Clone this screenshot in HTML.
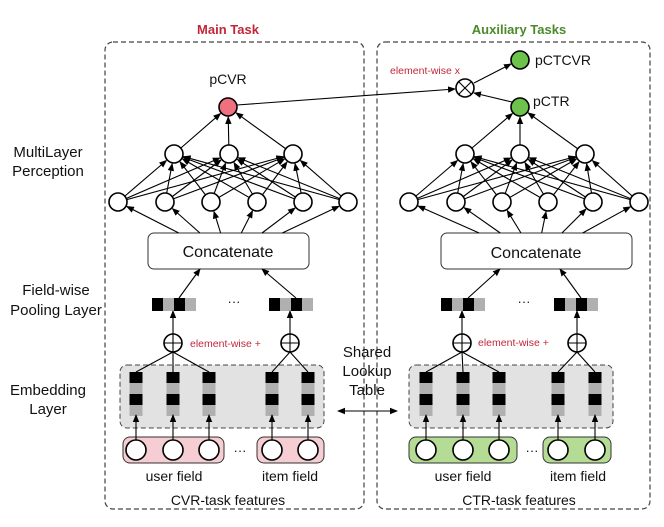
<!DOCTYPE html>
<html><head><meta charset="utf-8">
<style>
html,body{margin:0;padding:0;background:#fff;}
svg{display:block;font-family:"Liberation Sans",Arial,sans-serif;}
</style></head>
<body>
<svg id="s" width="664" height="527" viewBox="0 0 664 527" xmlns="http://www.w3.org/2000/svg">
<defs>
<marker id="ah" markerWidth="8" markerHeight="8" refX="7" refY="4" orient="auto" markerUnits="userSpaceOnUse">
<path d="M0,0.8 L8,4 L0,7.2 Z" fill="#000"/>
</marker>
</defs>
<rect x="105" y="42" width="259" height="467" rx="8" fill="none" stroke="#444" stroke-width="1.2" stroke-dasharray="5,3"/>
<rect x="377" y="42" width="273" height="467" rx="8" fill="none" stroke="#444" stroke-width="1.2" stroke-dasharray="5,3"/>
<rect x="120" y="365" width="204" height="63" rx="7" fill="#e2e2e2" stroke="#444" stroke-dasharray="5,3"/>
<rect x="409" y="365" width="204" height="63" rx="7" fill="#e2e2e2" stroke="#444" stroke-dasharray="5,3"/>
<rect x="123" y="437" width="101" height="26" rx="7" fill="#f6cdd3" stroke="#333"/>
<rect x="257" y="437" width="67" height="26" rx="7" fill="#f6cdd3" stroke="#333"/>
<rect x="409" y="437" width="108" height="26" rx="7" fill="#b4dc94" stroke="#333"/>
<rect x="543" y="437" width="68" height="26" rx="7" fill="#b4dc94" stroke="#333"/>
<rect x="148" y="233" width="161" height="36" rx="6" fill="#fff" stroke="#333"/>
<rect x="441" y="233" width="191" height="36" rx="6" fill="#fff" stroke="#333"/>
<g id="g"></g>
<g font-size="13" font-weight="bold" text-anchor="middle">
<text x="228" y="34" fill="#c0283a">Main Task</text>
<text x="519" y="34" fill="#4a8a2a">Auxiliary Tasks</text>
</g>
<g font-size="15" fill="#111">
<text x="228" y="84" text-anchor="middle" font-size="14">pCVR</text>
<text x="535" y="65" font-size="14">pCTCVR</text>
<text x="533" y="106" font-size="14">pCTR</text>
<text x="228" y="257" text-anchor="middle" font-size="16">Concatenate</text>
<text x="536" y="258" text-anchor="middle" font-size="16">Concatenate</text>
<text x="48" y="157" text-anchor="middle">MultiLayer</text>
<text x="48" y="176" text-anchor="middle">Perception</text>
<text x="56" y="295" text-anchor="middle">Field-wise</text>
<text x="56" y="315" text-anchor="middle">Pooling Layer</text>
<text x="48" y="395" text-anchor="middle">Embedding</text>
<text x="48" y="414" text-anchor="middle">Layer</text>
<text x="367" y="357" text-anchor="middle">Shared</text>
<text x="367" y="376" text-anchor="middle">Lookup</text>
<text x="367" y="395" text-anchor="middle">Table</text>
<text x="174" y="481" text-anchor="middle" font-size="14">user field</text>
<text x="290" y="481" text-anchor="middle" font-size="14">item field</text>
<text x="463" y="481" text-anchor="middle" font-size="14">user field</text>
<text x="578" y="481" text-anchor="middle" font-size="14">item field</text>
<text x="228" y="505" text-anchor="middle" font-size="14">CVR-task features</text>
<text x="519" y="505" text-anchor="middle" font-size="14">CTR-task features</text>
<text x="234" y="306" text-anchor="middle" font-size="13">···</text>
<text x="524" y="306" text-anchor="middle" font-size="13">···</text>
<text x="240" y="455" text-anchor="middle" font-size="13">···</text>
<text x="532" y="455" text-anchor="middle" font-size="13">···</text>
</g>
<g font-size="10.5" fill="#c0283a">
<text x="190" y="347">element-wise +</text>
<text x="478" y="346">element-wise +</text>
<text x="390" y="74">element-wise x</text>
</g>
</svg>
<script>
var g=document.getElementById('g'),NS='http://www.w3.org/2000/svg';
function el(t,a){var e=document.createElementNS(NS,t);for(var k in a)e.setAttribute(k,a[k]);g.appendChild(e);return e;}
function ln(x1,y1,x2,y2,arr,r){r=r||0;var dx=x2-x1,dy=y2-y1,d=Math.sqrt(dx*dx+dy*dy);var ex=x2-dx/d*r,ey=y2-dy/d*r;var a={x1:x1,y1:y1,x2:ex,y2:ey,stroke:'#000','stroke-width':1.1};if(arr)a['marker-end']='url(#ah)';el('line',a);}
function circ(x,y,r,f){el('circle',{cx:x,cy:y,r:r,fill:f||'#fff',stroke:'#000','stroke-width':1.6});}
function net(L1,L2,out,y1,y2,yo,bx0,bx1,by,oc){
 var bc=(bx0+bx1)/2;
 L1.forEach(function(x){ln(bc+(x-bc)*0.45,by,x,y1,true,10);});
 L1.forEach(function(x){L2.forEach(function(x2){ln(x,y1,x2,y2,true,10);});});
 L2.forEach(function(x){ln(x,y2,out,yo,true,10);});
 L1.forEach(function(x){circ(x,y1,9);});
 L2.forEach(function(x){circ(x,y2,9);});
 circ(out,yo,9,oc);
}
function vecH(x,y){var c=['#000','#b0b0b0','#000','#b0b0b0'];for(var i=0;i<4;i++)el('rect',{x:x+i*11,y:y,width:11,height:13,fill:c[i]});}
function vecV(x,y){var c=['#000','#b0b0b0','#000','#b0b0b0'];for(var i=0;i<4;i++)el('rect',{x:x-6.5,y:y+i*11,width:13,height:11,fill:c[i]});}
function plus(x,y){circ(x,y,9);ln(x-9,y,x+9,y);ln(x,y-9,x,y+9);}
function pool(px,pyTop,cx1,cols,vx,bx){ // plus x
 // vector
 vecH(vx,298);
 ln(vx+27,298,bx,269,true,0);
 ln(px,334,px,311,true,0);
 cols.forEach(function(c){ln(px,352,c,372);});
 cols.forEach(function(c){vecV(c,372);ln(c,441,c,415,true,0);circ(c,450,10);});
 plus(px,343);
}
net([118,165,211,257,303,348],[174,229,293],228,202,154,107,148,309,233,'#f07080');
net([409,456,502,548,593,639],[465,520,585],520,202,154,107,441,632,233,'#6cc24a');
pool(173,0,0,[136,173,209],152,200);
pool(290,0,0,[272,308],269,262);
pool(462,0,0,[426,463,499],441,500);
pool(577,0,0,[558,595],554,560);
// top connections
ln(237,105,455,89,true,0);
ln(512,102,474,93,true,0);
ln(474,83,511,64,true,0);
circ(465,88,9);
ln(458.6,81.6,471.4,94.4);ln(471.4,81.6,458.6,94.4);
circ(520,60,9,'#6cc24a');
// shared arrow
el('line',{x1:346,y1:411,x2:397,y2:411,stroke:'#000','stroke-width':1.1,'marker-end':'url(#ah)'});
el('line',{x1:397,y1:411,x2:338,y2:411,stroke:'#000','stroke-width':1.1,'marker-end':'url(#ah)'});
</script>
</body></html>
